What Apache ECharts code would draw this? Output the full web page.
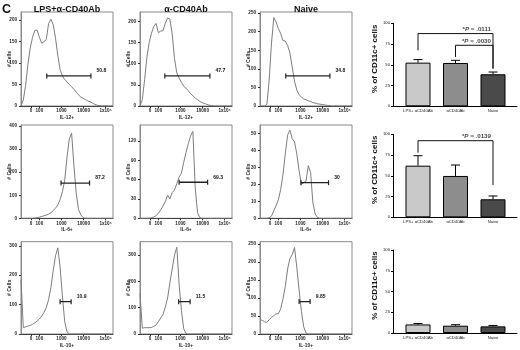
<!DOCTYPE html>
<html>
<head>
<meta charset="utf-8">
<script src="https://cdn.jsdelivr.net/npm/echarts@6/dist/echarts.min.js"></script>
<style>
html, body { margin: 0; padding: 0; background: #fff; }
#chart { width: 520px; height: 350px; }
</style>
</head>
<body>
<div id="chart"></div>
<script>
// channel positions on the biexponential display scale (0-100 across the plot)
const channels = [0,2.5,5,7.5,10,12.5,15,17.5,20,22.5,25,27.5,30,32.5,35,37.5,40,42.5,45,47.5,50,52.5,55,57.5,60,62.5,65,67.5,70,72.5,75,77.5,80,82.5,85,87.5,90,92.5,95,97.5,100];
const xTickPos = [11, 20, 44, 68, 92];
const xTickText = ['0', '100', '1000', '10000', '1x10⁵'];

const groups = ['LPS+α-CD40Ab', 'α-CD40Ab', 'Naive'];
const markers = ['IL-12+', 'IL-6+', 'IL-10+'];

// # cells per channel
const il12Lps   = [0,14,48,97,135,160,176,177,160,146,150,155,192,202,190,158,118,85,70,62,56,50,45,39,32,26,21,18,15,12,10,7,4,2,1,0,0,0,0,0,0];
const il12Ab    = [0,15,62,115,150,172,188,195,173,177,178,195,208,205,170,112,78,66,56,47,42,36,29,24,19,15,11,8,6,4,2,1,0,0,0,0,0,0,0,0,0];
const il12Naive = [0,0,0,5,70,170,238,226,208,195,176,175,163,143,105,67,43,30,24,19,17,14,12,9,8,6,5,4,3,2,1,0,0,0,0,0,0,0,0,0,0];
const il6Lps    = [0,0,0,0,0,0,1,3,5,8,11,14,18,24,33,44,58,82,115,165,265,345,370,230,110,38,15,3,0,0,0,0,0,0,0,0,0,0,0,0,0];
const il6Ab     = [0,0,0,0,0,1,2,4,8,13,19,26,36,30,40,44,54,64,70,87,102,116,128,135,48,9,1,0,0,0,0,0,0,0,0,0,0,0,0,0,0];
const il6Naive  = [0,0,0,0,0.3,1.3,4.5,7.5,11,17,26,38,49,52,47,45,38,28,20,21,22,31,27,9,2.5,0.5,0,0,0,0,0,0,0,0,0,0,0,0,0,0,0];
const il10Lps   = [184,22,24,27,29,33,38,44,51,61,73,90,117,158,215,266,293,228,130,42,7,0,0,0,0,0,0,0,0,0,0,0,0,0,0,0,0,0,0,0,0];
const il10Ab    = [155,22,24,24,24,25,29,35,47,61,74,102,137,195,247,300,330,190,90,20,2,0,0,0,0,0,0,0,0,0,0,0,0,0,0,0,0,0,0,0,0];
const il10Naive = [40,38,34,32,40,46,51,56,56,70,98,132,180,209,220,240,185,122,63,20,3,0,0,0,0,0,0,0,0,0,0,0,0,0,0,0,0,0,0,0,0];

const histCounts = [il12Lps, il12Ab, il12Naive, il6Lps, il6Ab, il6Naive, il10Lps, il10Ab, il10Naive];
const yMax  = [219, 222, 253, 405, 145, 55, 314, 351, 256];
const yStep = [50, 50, 50, 100, 30, 10, 100, 100, 50];

// gates: start, end, level, percent
const gateStart = [28, 27, 28, 43.5, 42.5, 44.5, 42.5, 42, 42.5];
const gateEnd   = [76, 76, 76, 74.5, 73.5, 74.5, 54.5, 54.5, 54.5];
const gateLevel = [70, 71, 81, 153, 56, 21, 110, 123, 90];
const gatePct   = ['50.8', '47.7', '34.8', '87.2', '69.3', '30', '10.9', '11.5', '9.85'];

// summary bars, % of CD11c+ cells
const barCats = ['LPS+ αCD40Ab', 'αCD40Ab', 'Naive'];
const il12Mean = [52.6, 52.2, 38.6];
const il12Upper = [56.3, 55.4, 41.3];
const il6Mean = [62.2, 49.8, 21.7];
const il6Upper = [74.2, 63.0, 25.7];
const il10Mean = [10.3, 8.8, 8.0];
const il10Upper = [11.5, 10.0, 9.1];
const barColors = ['#c9c9c9', '#8d8d8d', '#4a4a4a'];

// significance brackets: chart, from, to, top, left leg end, right leg end, p
const sigChart = [0, 0, 1];
const sigFrom  = [0, 1, 0];
const sigTo    = [2, 2, 2];
const sigTop   = [87.6, 73.5, 92.3];
const sigLegL  = [67.5, 59.4, 77.8];
const sigLegR  = [45.4, 45.4, 38.9];
const sigP     = ['.0111', '.0030', '.0139'];

const FONT = 'Liberation Sans';
const chart = echarts.init(document.getElementById('chart'));

const colLeft = [21, 140, 260];
const rowTop = [12, 125, 241.7];
const rowH = [94, 93.3, 92.3];

const grid = [], xAxis = [], yAxis = [], series = [];
const title = [{ text: 'C', left: 2, top: 3, padding: 0, textStyle: { fontFamily: FONT, fontSize: 12.5, fontWeight: 'bold', color: '#111' } }];

groups.forEach(function (g, c) {
  title.push({
    text: g, left: colLeft[c] + 46, top: 5, padding: 0, textAlign: 'center',
    textStyle: { fontFamily: FONT, fontSize: 9, fontWeight: 'bold', color: '#111' }
  });
});

for (let r = 0; r < 3; r++) {
  for (let c = 0; c < 3; c++) {
    const k = r * 3 + c;
    grid.push({ left: colLeft[c], top: rowTop[r], width: 92, height: rowH[r], show: true, borderColor: '#8a8a8a', borderWidth: 1 });
    xAxis.push({
      gridIndex: k, type: 'value', min: 0, max: 100,
      name: markers[r], nameLocation: 'middle', nameGap: 9, nameMoveOverlap: false,
      nameTextStyle: { fontFamily: FONT, fontSize: 4.8, fontWeight: 'bold', color: '#222' },
      axisLine: { show: true, onZero: false, lineStyle: { color: '#444', width: 1 } },
      axisTick: { show: true, customValues: xTickPos, length: 2, lineStyle: { color: '#333' } },
      axisLabel: {
        customValues: xTickPos, margin: 2.5, fontFamily: FONT, fontSize: 4.6, fontWeight: 'bold', color: '#222',
        formatter: function (v) { return xTickText[xTickPos.indexOf(v)]; }
      },
      splitLine: { show: false }
    });
    yAxis.push({
      gridIndex: k, type: 'value', min: 0, max: yMax[k], interval: yStep[k],
      name: '# Cells', nameLocation: 'middle', nameGap: 9, nameMoveOverlap: false,
      nameTextStyle: { fontFamily: FONT, fontSize: 5, fontWeight: 'bold', color: '#222' },
      axisLine: { show: true, onZero: false, lineStyle: { color: '#8a8a8a' } },
      axisTick: { show: true, length: 2, lineStyle: { color: '#333' } },
      axisLabel: { showMaxLabel: false, margin: 4, fontFamily: FONT, fontSize: 4.6, fontWeight: 'bold', color: '#222' },
      splitLine: { show: false }
    });
    series.push({
      type: 'line', xAxisIndex: k, yAxisIndex: k, showSymbol: false,
      data: channels.map(function (ch, i) { return [ch, histCounts[k][i]]; }),
      lineStyle: { color: '#7d7d7d', width: 1 }
    });
    series.push({
      type: 'line', xAxisIndex: k, yAxisIndex: k, symbol: 'rect', symbolSize: [1.2, 5], z: 5,
      itemStyle: { color: '#222' }, lineStyle: { color: '#222', width: 1.3 },
      data: [[gateStart[k], gateLevel[k]], {
        value: [gateEnd[k], gateLevel[k]],
        label: {
          show: true, position: 'right', distance: 5, offset: [0, -5],
          fontFamily: FONT, fontSize: 5, fontWeight: 'bold', color: '#111',
          formatter: gatePct[k]
        }
      }]
    });
  }
}

// bar charts
const barMeans = [il12Mean, il6Mean, il10Mean];
const barUppers = [il12Upper, il6Upper, il10Upper];
const barTop = [23.3, 134.3, 250];

function renderErr(params, api) {
  const x = api.value(0);
  const base = api.coord([x, api.value(1)]);
  const top = api.coord([x, api.value(2)]);
  return {
    type: 'group', children: [
      { type: 'line', shape: { x1: top[0], y1: base[1], x2: top[0], y2: top[1] }, style: { stroke: '#000', lineWidth: 1 } },
      { type: 'line', shape: { x1: top[0] - 4.5, y1: top[1], x2: top[0] + 4.5, y2: top[1] }, style: { stroke: '#000', lineWidth: 1 } }
    ]
  };
}

for (let b = 0; b < 3; b++) {
  const k = 9 + b;
  grid.push({ left: 393, top: barTop[b], width: 124, height: 83 });
  xAxis.push({
    gridIndex: k, type: 'value', min: -0.667, max: 2.64,
    axisLine: { show: true, onZero: false, lineStyle: { color: '#000', width: 1 } },
    axisTick: { show: false },
    axisLabel: {
      customValues: [0, 1, 2], margin: 3, fontFamily: FONT, fontSize: 4.2, color: '#222',
      formatter: function (v) { return barCats[Math.round(v)]; }
    },
    splitLine: { show: false }
  });
  yAxis.push({
    gridIndex: k, type: 'value', min: 0, max: 100, interval: 25,
    name: '% of CD11c+ cells', nameLocation: 'middle', nameGap: 14.5, nameMoveOverlap: false,
    nameTextStyle: { fontFamily: FONT, fontSize: 8, fontWeight: 'bold', color: '#111', padding: [0, 0, 0, 12] },
    axisLine: { show: true, onZero: false, lineStyle: { color: '#000', width: 1 } },
    axisTick: { show: true, length: 2, lineStyle: { color: '#000' } },
    axisLabel: { margin: 3, fontFamily: FONT, fontSize: 4.2, color: '#222' },
    splitLine: { show: false }
  });
  series.push({
    type: 'bar', xAxisIndex: k, yAxisIndex: k, barWidth: 25,
    itemStyle: { borderColor: '#000', borderWidth: 1 },
    data: barMeans[b].map(function (v, i) { return { value: [i, v], itemStyle: { color: barColors[i] } }; })
  });
  series.push({
    type: 'custom', xAxisIndex: k, yAxisIndex: k, z: 4, renderItem: renderErr,
    encode: { x: 0, y: [1, 2] },
    data: barMeans[b].map(function (v, i) { return [i, v, barUppers[b][i]]; })
  });
}

sigP.forEach(function (p, s) {
  const k = 9 + sigChart[s];
  series.push({
    type: 'line', xAxisIndex: k, yAxisIndex: k, showSymbol: false, z: 4,
    lineStyle: { color: '#111', width: 1 },
    data: [[sigFrom[s], sigLegL[s]], [sigFrom[s], sigTop[s]], [sigTo[s], sigTop[s]], [sigTo[s], sigLegR[s]]]
  });
  series.push({
    type: 'scatter', xAxisIndex: k, yAxisIndex: k, symbolSize: 0, z: 5,
    data: [[sigTo[s], sigTop[s]]],
    label: {
      show: true, position: 'top', distance: 1, align: 'right', offset: [-2, 0],
      formatter: '{n|*}{i|P}{n| = ' + p + '}',
      rich: {
        n: { fontFamily: FONT, fontSize: 6.2, fontWeight: 'bold', color: '#111' },
        i: { fontFamily: FONT, fontSize: 6.2, fontWeight: 'bold', fontStyle: 'italic', color: '#111' }
      }
    }
  });
});

chart.setOption({
  animation: false,
  backgroundColor: '#fff',
  title: title,
  grid: grid,
  xAxis: xAxis,
  yAxis: yAxis,
  series: series
});
</script>
</body>
</html>
